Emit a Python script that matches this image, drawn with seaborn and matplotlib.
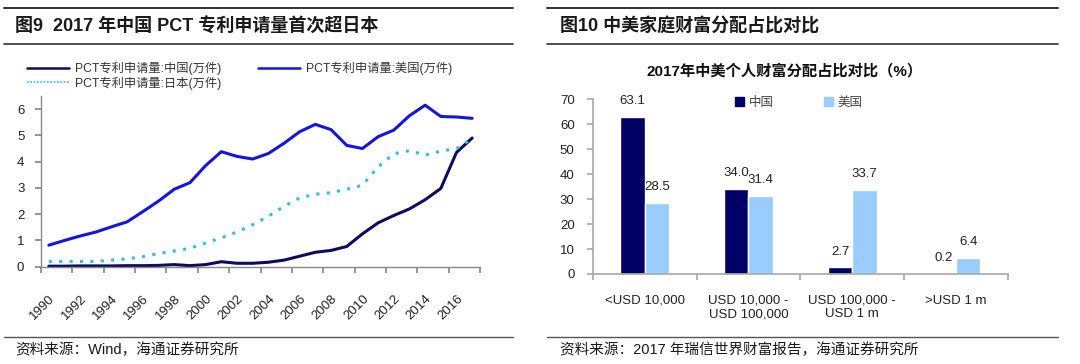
import numpy as np
import pandas as pd
import matplotlib
matplotlib.use("Agg")
import matplotlib.pyplot as plt
import seaborn as sns
from matplotlib.lines import Line2D
from matplotlib.patches import Patch

sns.set_theme(style="white")
FAM = ['Liberation Sans', 'Noto Sans CJK SC', 'DejaVu Sans']
plt.rcParams['font.family'] = FAM

# ---------------- data ----------------
years = list(range(1990, 2018))
pct_china = [0.02, 0.02, 0.03, 0.03, 0.03, 0.04, 0.04, 0.05, 0.08, 0.04, 0.08, 0.19,
             0.13, 0.13, 0.17, 0.25, 0.40, 0.55, 0.62, 0.77, 1.25, 1.67, 1.95, 2.20,
             2.55, 2.98, 4.35, 4.90]
pct_us = [0.82, 1.00, 1.17, 1.32, 1.52, 1.71, 2.10, 2.50, 2.95, 3.20, 3.85, 4.38,
          4.20, 4.10, 4.31, 4.70, 5.14, 5.42, 5.22, 4.62, 4.50, 4.95, 5.20, 5.75,
          6.15, 5.72, 5.70, 5.65]
pct_japan = [0.20, 0.20, 0.20, 0.20, 0.25, 0.30, 0.38, 0.50, 0.60, 0.70, 0.90, 1.10,
             1.32, 1.60, 1.92, 2.30, 2.62, 2.76, 2.82, 2.95, 3.10, 3.80, 4.30, 4.42,
             4.25, 4.40, 4.50, 4.88]
series_names = ['PCT专利申请量:中国(万件)', 'PCT专利申请量:美国(万件)', 'PCT专利申请量:日本(万件)']
year_labels = [str(y) for y in range(1990, 2017, 2)]

wealth_cats = ['<USD 10,000', 'USD 10,000 -\nUSD 100,000', 'USD 100,000 -\nUSD 1 m', '>USD 1 m']
wealth_china = [63.1, 34.0, 2.7, 0.2]
wealth_us = [28.5, 31.4, 33.7, 6.4]
wealth_series = ['中国', '美国']

# ---------------- figure ----------------
W, H = 1080, 364
fig = plt.figure(figsize=(W / 100, H / 100), dpi=100)
fig.patch.set_facecolor('white')

def box(x0, y0, x1, y1):
    return [x0 / W, 1 - y1 / H, (x1 - x0) / W, (y1 - y0) / H]

def hline(x0, x1, y, lw=1.3, color='#333333'):
    fig.add_artist(Line2D([x0 / W, x1 / W], [1 - y / H, 1 - y / H], color=color, lw=lw,
                          transform=fig.transFigure))

# header / footer rules
for (a, b) in [(4, 513), (547, 1058)]:
    hline(a, b, 7.5, lw=1.4)
    hline(a, b, 43.5, lw=1.2)
    hline(a, b, 336.5, lw=1.0, color='#555555')

fig.text(15 / W, 1 - 27 / H, '图9  2017 年中国 PCT 专利申请量首次超日本', fontsize=13,
         fontweight='bold', va='center', ha='left', color='#1a1a1a')
fig.text(560 / W, 1 - 27 / H, '图10 中美家庭财富分配占比对比', fontsize=13,
         fontweight='bold', va='center', ha='left', color='#1a1a1a')
fig.text(15 / W, 1 - 350 / H, '资料来源：Wind，海通证券研究所', fontsize=10.5,
         va='center', ha='left', color='#1a1a1a')
fig.text(560 / W, 1 - 350 / H, '资料来源：2017 年瑞信世界财富报告，海通证券研究所', fontsize=10.5,
         va='center', ha='left', color='#1a1a1a')

# ---------------- left: line chart ----------------
ax1 = fig.add_axes(box(41, 96, 480, 266.7))
df_line = pd.DataFrame({
    'year': years * 3,
    'value': pct_china + pct_us + pct_japan,
    'series': [series_names[0]] * len(years) + [series_names[1]] * len(years) + [series_names[2]] * len(years),
})
line_colors = {series_names[0]: '#0c0c5e', series_names[1]: '#1414e0', series_names[2]: '#2fbde0'}
sns.lineplot(data=df_line[df_line.series == series_names[0]], x='year', y='value', ax=ax1,
             color=line_colors[series_names[0]], lw=2.2, legend=False)
sns.lineplot(data=df_line[df_line.series == series_names[1]], x='year', y='value', ax=ax1,
             color=line_colors[series_names[1]], lw=2.2, legend=False)
sns.lineplot(data=df_line[df_line.series == series_names[2]], x='year', y='value', ax=ax1,
             color=line_colors[series_names[2]], lw=2.2, ls=(0, (1, 2.4)), legend=False)
ax1.set_xlim(1989.5, 2017.5)
ax1.set_ylim(0, 6.5)
ax1.set_yticks(range(0, 7))
ax1.set_yticklabels([str(i) for i in range(0, 7)], fontsize=9.5, color='#222222')
ax1.set_xticks(np.arange(1989.5, 2018, 2), minor=False)
ax1.set_xticklabels([])
ax1.set_xticks([int(s) for s in year_labels], minor=True)
ax1.set_xticklabels(year_labels, minor=True, rotation=45, ha='right', rotation_mode='anchor',
                    fontsize=9.5, color='#222222')
ax1.tick_params(axis='x', which='minor', length=0, pad=19)
ax1.tick_params(axis='x', which='major', length=4, color='#888888', direction='out', bottom=True)
ax1.tick_params(axis='y', length=4, color='#888888', direction='out', left=True, pad=8)
for s in ['top', 'right']:
    ax1.spines[s].set_visible(False)
for s in ['left', 'bottom']:
    ax1.spines[s].set_color('#888888')
    ax1.spines[s].set_linewidth(1.0)
ax1.set_xlabel('')
ax1.set_ylabel('')
ax1.set_facecolor('white')

handles = [Line2D([], [], color=line_colors[series_names[0]], lw=1.8),
           Line2D([], [], color=line_colors[series_names[1]], lw=1.8),
           Line2D([], [], color=line_colors[series_names[2]], lw=1.2, ls=(0, (1, 1)))]
leg_kw = dict(frameon=False, fontsize=8.8, handlelength=3.4, handletextpad=0.5,
              labelcolor='#333333', borderaxespad=0, borderpad=0, loc='center left')
fig.legend(handles[0:1], series_names[0:1], bbox_to_anchor=(27 / W, 1 - 68.5 / H), **leg_kw)
fig.legend(handles[1:2], series_names[1:2], bbox_to_anchor=(258 / W, 1 - 68.5 / H), **leg_kw)
fig.legend(handles[2:3], series_names[2:3], bbox_to_anchor=(27 / W, 1 - 83 / H), **leg_kw)

# ---------------- right: bar chart ----------------
ax2 = fig.add_axes(box(592.7, 99.3, 1008, 274))
df_bar = pd.DataFrame({
    'cat': wealth_cats * 2,
    'value': wealth_china + wealth_us,
    'series': [wealth_series[0]] * 4 + [wealth_series[1]] * 4,
})
bar_colors = {wealth_series[0]: '#000066', wealth_series[1]: '#99ccff'}
sns.barplot(data=df_bar, x='cat', y='value', hue='series', palette=bar_colors, ax=ax2,
            width=0.47, gap=0, saturation=1, legend=False, order=wealth_cats,
            hue_order=wealth_series)
ax2.set_xlim(-0.5, 3.5)
ax2.set_ylim(0, 70)
ax2.set_yticks(range(0, 71, 10))
ax2.set_yticklabels([str(v) for v in range(0, 71, 10)], fontsize=9.5, color='#222222')
ax2.set_xticks(np.arange(-0.5, 4, 1))
ax2.set_xticklabels([])
ax2.set_xticks(range(4), minor=True)
ax2.set_xticklabels(wealth_cats, minor=True, fontsize=9.5, color='#222222', linespacing=1.15,
                    va='top')
ax2.tick_params(axis='x', which='minor', length=0, pad=15)
ax2.tick_params(axis='x', which='major', length=4, color='#aaaaaa', direction='out', bottom=True)
ax2.tick_params(axis='y', length=4, color='#aaaaaa', direction='out', left=True, pad=9)
for s in ['top', 'right']:
    ax2.spines[s].set_visible(False)
for s in ['left', 'bottom']:
    ax2.spines[s].set_color('#aaaaaa')
ax2.set_xlabel('')
ax2.set_ylabel('')
for cont in ax2.containers:
    ax2.bar_label(cont, fmt='%.1f', padding=7, fontsize=9.5, color='#222222')

ax2.text(0.463, 1 + 28.5 / 175, '2017年中美个人财富分配占比对比（%）', transform=ax2.transAxes,
         fontsize=11, fontweight='bold', color='#111111', ha='center', va='center')

ph = [Patch(color=bar_colors[s]) for s in wealth_series]
ax2.legend(ph, wealth_series, loc='center left', bbox_to_anchor=((735 - 592.7) / 415.3, 1 - 3.5 / 175),
           ncol=2, frameon=False, fontsize=9, handlelength=0.7, handleheight=0.7,
           handletextpad=0.4, columnspacing=4.0, labelcolor='#444444', borderaxespad=0, borderpad=0)

fig.savefig('out.png', dpi=100, facecolor='white')
